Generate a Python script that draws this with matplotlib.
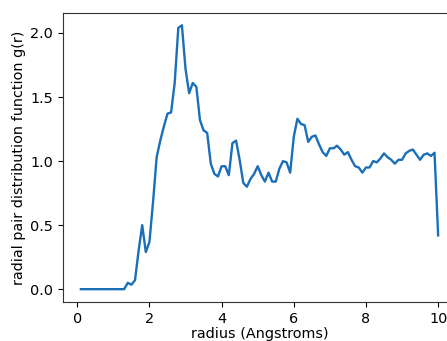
import matplotlib
matplotlib.use("Agg")
import matplotlib.pyplot as plt

radius = [0.1, 0.2, 0.3, 0.4, 0.5, 0.6, 0.7, 0.8, 0.9, 1.0,
          1.1, 1.2, 1.3, 1.4, 1.5, 1.6, 1.7, 1.8, 1.9, 2.0,
          2.1, 2.2, 2.3, 2.4, 2.5, 2.6, 2.7, 2.8, 2.9, 3.0,
          3.1, 3.2, 3.3, 3.4, 3.5, 3.6, 3.7, 3.8, 3.9, 4.0,
          4.1, 4.2, 4.3, 4.4, 4.5, 4.6, 4.7, 4.8, 4.9, 5.0,
          5.1, 5.2, 5.3, 5.4, 5.5, 5.6, 5.7, 5.8, 5.9, 6.0,
          6.1, 6.2, 6.3, 6.4, 6.5, 6.6, 6.7, 6.8, 6.9, 7.0,
          7.1, 7.2, 7.3, 7.4, 7.5, 7.6, 7.7, 7.8, 7.9, 8.0,
          8.1, 8.2, 8.3, 8.4, 8.5, 8.6, 8.7, 8.8, 8.9, 9.0,
          9.1, 9.2, 9.3, 9.4, 9.5, 9.6, 9.7, 9.8, 9.9, 10.0]

gr = [0.0, 0.0, 0.0, 0.0, 0.0, 0.0, 0.0, 0.0, 0.0, 0.0,
      0.0, 0.0, 0.0, 0.05, 0.035, 0.07, 0.30, 0.50, 0.29, 0.37,
      0.68, 1.03, 1.16, 1.27, 1.37, 1.38, 1.61, 2.04, 2.06, 1.72,
      1.53, 1.61, 1.58, 1.32, 1.24, 1.22, 0.98, 0.90, 0.88, 0.96,
      0.96, 0.89, 1.14, 1.16, 1.01, 0.83, 0.80, 0.86, 0.90, 0.96,
      0.89, 0.84, 0.91, 0.84, 0.84, 0.94, 1.00, 0.99, 0.91, 1.19,
      1.33, 1.29, 1.28, 1.15, 1.19, 1.20, 1.13, 1.07, 1.04, 1.10,
      1.10, 1.12, 1.09, 1.05, 1.07, 1.01, 0.96, 0.95, 0.91, 0.95,
      0.95, 1.00, 0.99, 1.02, 1.06, 1.03, 1.01, 0.98, 1.01, 1.01,
      1.06, 1.08, 1.09, 1.05, 1.01, 1.05, 1.06, 1.04, 1.065, 0.42]

xticks = [0, 2, 4, 6, 8, 10]
yticks = [0.0, 0.5, 1.0, 1.5, 2.0]

fig = plt.figure(figsize=(4.47, 3.41), dpi=100)
ax = fig.add_axes([63 / 447, 1 - 302 / 341, (456 - 63) / 447, (302 - 13) / 341])
ax.plot(radius, gr, color="#1a6fb8", linewidth=1.7)
ax.set_xlim(-0.395, 10.495)
ax.set_ylim(-0.10, 2.156)
ax.set_xticks(xticks)
ax.set_xticklabels([str(t) for t in xticks])
ax.set_yticks(yticks)
ax.set_yticklabels(["%.1f" % t for t in yticks])
ax.tick_params(labelsize=10.4)
for s in ax.spines.values():
    s.set_color("#333333")
ax.set_xlabel("radius (Angstroms)", fontsize=10.4, labelpad=1)
ax.set_ylabel("radial pair distribution function g(r)", fontsize=10.4, labelpad=3)
fig.savefig("out.png", dpi=100)
